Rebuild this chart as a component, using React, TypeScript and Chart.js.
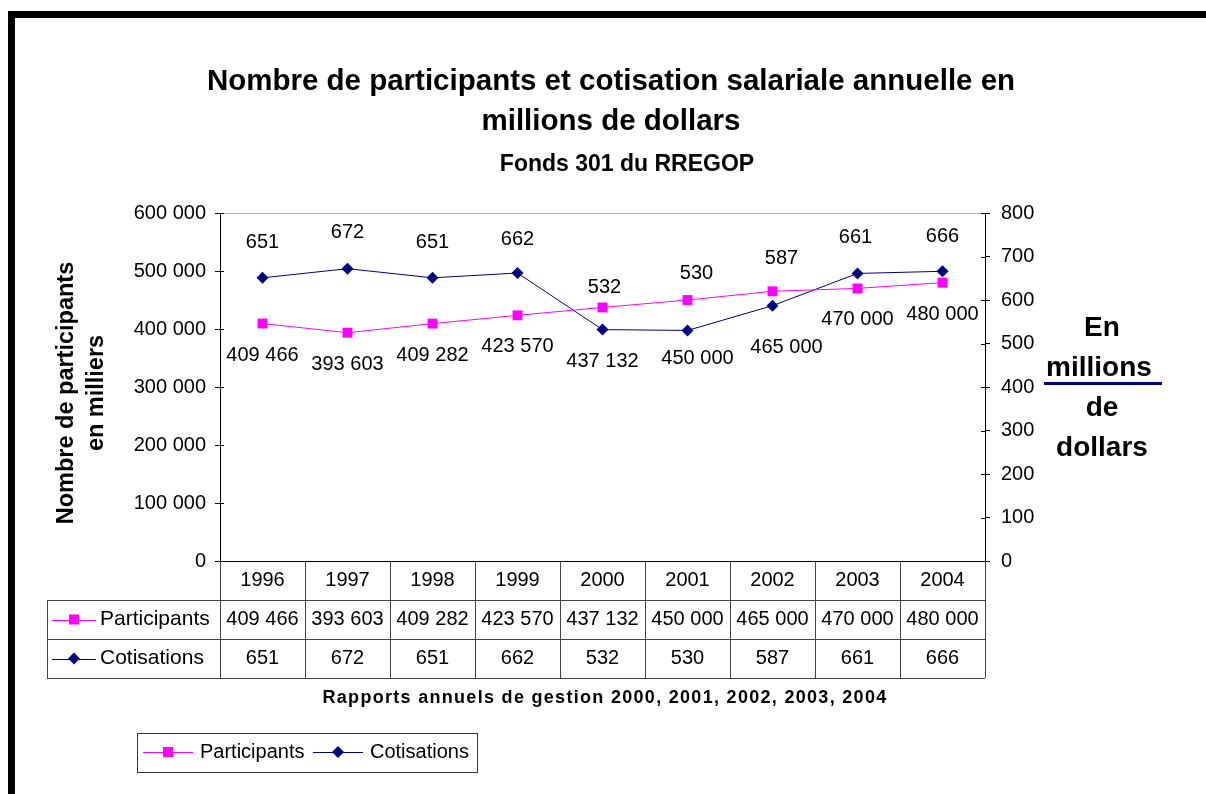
import React, { useEffect, useRef } from 'react';
import { Chart, registerables } from 'chart.js';

Chart.register(...registerables);

const years = ['1996', '1997', '1998', '1999', '2000', '2001', '2002', '2003', '2004'];
const participants = [409466, 393603, 409282, 423570, 437132, 450000, 465000, 470000, 480000];
const cotisations = [651, 672, 651, 662, 532, 530, 587, 661, 666];
const participantsMax = 600000;
const participantsStep = 100000;
const cotisationsMax = 800;
const cotisationsStep = 100;

// label placement (pixel offsets relative to each point)
const participantLabelOffsets = [[0, 32], [0, 32], [0, 32], [0, 31], [0, 54], [10, 58], [14, 56], [0, 31], [0, 32]];
const cotisationLabelOffsets = [[0, -35], [0, -36], [0, -35], [0, -34], [2, -42], [9, -57], [9, -47], [-2, -36], [0, -35]];

const FONT = '"Liberation Sans", Arial, sans-serif';
const MAGENTA = '#FF00FF';
const NAVY = '#000080';

const fmt = (n: number) => String(n).replace(/\B(?=(\d{3})+(?!\d))/g, ' ');

function drawSquare(ctx: CanvasRenderingContext2D, x: number, y: number, s: number, c: string) {
  ctx.fillStyle = c;
  ctx.fillRect(x - s / 2, y - s / 2, s, s);
}
function drawDiamond(ctx: CanvasRenderingContext2D, x: number, y: number, r: number, c: string) {
  ctx.fillStyle = c;
  ctx.beginPath();
  ctx.moveTo(x - r, y);
  ctx.lineTo(x, y - r);
  ctx.lineTo(x + r, y);
  ctx.lineTo(x, y + r);
  ctx.closePath();
  ctx.fill();
}

const decorPlugin = {
  id: 'decor',
  afterDatasetsDraw(chart: any) {
    const ctx: CanvasRenderingContext2D = chart.ctx;
    ctx.save();
    ctx.font = `20px ${FONT}`;
    ctx.fillStyle = '#000';
    ctx.textAlign = 'center';
    ctx.textBaseline = 'middle';
    const m0 = chart.getDatasetMeta(0).data;
    m0.forEach((pt: any, i: number) => {
      const [dx, dy] = participantLabelOffsets[i];
      ctx.fillText(fmt(participants[i]), pt.x + dx, pt.y + dy);
    });
    const m1 = chart.getDatasetMeta(1).data;
    m1.forEach((pt: any, i: number) => {
      const [dx, dy] = cotisationLabelOffsets[i];
      ctx.fillText(fmt(cotisations[i]), pt.x + dx, pt.y + dy);
    });
    ctx.restore();
  },
  afterDraw(chart: any) {
    const ctx: CanvasRenderingContext2D = chart.ctx;
    const { left, right, top, bottom } = chart.chartArea;
    ctx.save();

    // page frame
    ctx.fillStyle = '#000';
    ctx.fillRect(8, 11, 1206 - 8, 7);
    ctx.fillRect(8, 11, 7, 794 - 11);

    // inner half of crossing tick marks
    ctx.strokeStyle = '#000';
    ctx.lineWidth = 1;
    const yS = chart.scales.y;
    const y1S = chart.scales.y1;
    yS.ticks.forEach((t: any) => {
      const py = Math.round(yS.getPixelForValue(t.value)) + 0.5;
      ctx.beginPath(); ctx.moveTo(left, py); ctx.lineTo(left + 4, py); ctx.stroke();
    });
    y1S.ticks.forEach((t: any) => {
      const py = Math.round(y1S.getPixelForValue(t.value)) + 0.5;
      ctx.beginPath(); ctx.moveTo(right - 4, py); ctx.lineTo(right, py); ctx.stroke();
    });

    // titles
    ctx.fillStyle = '#000';
    ctx.textAlign = 'center';
    ctx.textBaseline = 'middle';
    ctx.font = `bold 29.5px ${FONT}`;
    ctx.fillText('Nombre de participants et cotisation salariale annuelle en', 611, 82);
    ctx.fillText('millions de dollars', 611, 122);
    ctx.font = `bold 23px ${FONT}`;
    ctx.fillText('Fonds 301 du RREGOP', 627, 165);

    // left axis title
    ctx.save();
    ctx.translate(67, 393);
    ctx.rotate(-Math.PI / 2);
    ctx.font = `bold 23.5px ${FONT}`;
    ctx.fillText('Nombre de participants', 0, 0);
    ctx.fillText('en milliers', 0, 30);
    ctx.restore();

    // right axis title
    ctx.font = `bold 28px ${FONT}`;
    ctx.fillText('En', 1102, 328);
    ctx.fillText('millions', 1099, 368);
    ctx.fillText('de', 1102, 408);
    ctx.fillText('dollars', 1102, 448);
    ctx.fillStyle = NAVY;
    ctx.fillRect(1044, 382, 118, 3);
    ctx.fillStyle = '#000';

    // data table
    const n = years.length;
    const colW = (right - left) / n;
    const tableLeft = 47;
    const rowH = 39;
    const r1 = bottom + rowH;
    const r2 = r1 + rowH;
    const r3 = r2 + rowH;
    ctx.strokeStyle = '#444';
    ctx.lineWidth = 1;
    const hline = (x0: number, x1: number, y: number) => {
      ctx.beginPath(); ctx.moveTo(x0, Math.round(y) + 0.5); ctx.lineTo(x1, Math.round(y) + 0.5); ctx.stroke();
    };
    const vline = (x: number, y0: number, y1: number) => {
      ctx.beginPath(); ctx.moveTo(Math.round(x) + 0.5, y0); ctx.lineTo(Math.round(x) + 0.5, y1); ctx.stroke();
    };
    hline(tableLeft, right, r1);
    hline(tableLeft, right, r2);
    hline(tableLeft, right, r3);
    vline(tableLeft, r1, r3);
    for (let i = 0; i <= n; i++) vline(left + i * colW, bottom, r3);

    ctx.font = `20px ${FONT}`;
    ctx.textAlign = 'center';
    const xS = chart.scales.x;
    years.forEach((yr, i) => {
      const cx = xS.getPixelForValue(i);
      ctx.fillText(yr, cx, (bottom + r1) / 2);
      ctx.fillText(fmt(participants[i]), cx, (r1 + r2) / 2);
      ctx.fillText(fmt(cotisations[i]), cx, (r2 + r3) / 2);
    });
    // row headers
    const pY = (r1 + r2) / 2;
    const cY = (r2 + r3) / 2;
    ctx.lineWidth = 1;
    ctx.strokeStyle = MAGENTA;
    ctx.beginPath(); ctx.moveTo(52, Math.round(pY) + 0.5); ctx.lineTo(96, Math.round(pY) + 0.5); ctx.stroke();
    drawSquare(ctx, 74, pY, 10, MAGENTA);
    ctx.strokeStyle = NAVY;
    ctx.beginPath(); ctx.moveTo(52, Math.round(cY) + 0.5); ctx.lineTo(96, Math.round(cY) + 0.5); ctx.stroke();
    drawDiamond(ctx, 74, cY, 6, NAVY);
    ctx.fillStyle = '#000';
    ctx.textAlign = 'left';
    ctx.font = `21px ${FONT}`;
    ctx.fillText('Participants', 100, pY);
    ctx.fillText('Cotisations', 100, cY);

    // source
    ctx.textAlign = 'center';
    ctx.font = `bold 18px ${FONT}`;
    (ctx as any).letterSpacing = '1.3px';
    ctx.fillText('Rapports annuels de gestion 2000, 2001, 2002, 2003, 2004', 605, 698);
    (ctx as any).letterSpacing = '0px';

    // legend
    ctx.strokeStyle = '#333';
    ctx.lineWidth = 1;
    ctx.strokeRect(137.5, 733.5, 340, 39);
    const ly = 752;
    ctx.strokeStyle = MAGENTA;
    ctx.beginPath(); ctx.moveTo(143, ly + 0.5); ctx.lineTo(193, ly + 0.5); ctx.stroke();
    drawSquare(ctx, 168, ly, 10, MAGENTA);
    ctx.strokeStyle = NAVY;
    ctx.beginPath(); ctx.moveTo(313, ly + 0.5); ctx.lineTo(363, ly + 0.5); ctx.stroke();
    drawDiamond(ctx, 338, ly, 6, NAVY);
    ctx.fillStyle = '#000';
    ctx.textAlign = 'left';
    ctx.font = `20px ${FONT}`;
    ctx.fillText('Participants', 200, ly);
    ctx.fillText('Cotisations', 370, ly);

    ctx.restore();
  },
};

export default function App() {
  const ref = useRef<HTMLCanvasElement | null>(null);
  useEffect(() => {
    if (!ref.current) return;
    const chart = new Chart(ref.current, {
      type: 'line',
      data: {
        labels: years,
        datasets: [
          {
            label: 'Participants',
            data: participants,
            yAxisID: 'y',
            borderColor: MAGENTA,
            backgroundColor: MAGENTA,
            borderWidth: 1,
            pointStyle: 'rect',
            pointRadius: 7,
            pointBorderWidth: 0,
            tension: 0,
          },
          {
            label: 'Cotisations',
            data: cotisations,
            yAxisID: 'y1',
            borderColor: NAVY,
            backgroundColor: NAVY,
            borderWidth: 1,
            pointStyle: 'rectRot',
            pointRadius: 6,
            pointBorderWidth: 0,
            tension: 0,
          },
        ],
      },
      options: {
        responsive: false,
        animation: false,
        layout: { padding: { top: 213, left: 0, right: 0, bottom: 0 } },
        plugins: {
          legend: { display: false },
          title: { display: false },
          tooltip: { enabled: false },
        },
        scales: {
          x: {
            type: 'category',
            offset: true,
            grid: { display: false },
            ticks: { display: false },
            border: { display: true, color: '#000', width: 1 },
            afterFit: (s: any) => { s.height = 794 - 561; },
          },
          y: {
            position: 'left',
            min: 0,
            max: participantsMax,
            ticks: {
              stepSize: participantsStep,
              callback: (v: any) => fmt(Number(v)),
              font: { family: FONT, size: 20 },
              color: '#000',
              padding: 9,
            },
            grid: {
              color: (c: any) => (c.tick && c.tick.value === participantsMax ? '#b4b4b4' : 'rgba(0,0,0,0)'),
              tickColor: '#000',
              tickLength: 5,
            },
            border: { display: true, color: '#000', width: 1 },
            afterFit: (s: any) => { s.width = 220; },
          },
          y1: {
            position: 'right',
            min: 0,
            max: cotisationsMax,
            ticks: {
              stepSize: cotisationsStep,
              font: { family: FONT, size: 20 },
              color: '#000',
              padding: 11,
            },
            grid: { drawOnChartArea: false, tickColor: '#000', tickLength: 5 },
            border: { display: true, color: '#000', width: 1 },
            afterFit: (s: any) => { s.width = 1206 - 985; },
          },
        },
      },
      plugins: [decorPlugin],
    } as any);
    return () => chart.destroy();
  }, []);
  return (
    <div style={{ position: 'absolute', left: 0, top: 0, width: 1206, height: 794, background: '#fff' }}>
      <canvas ref={ref} width={1206} height={794} style={{ display: 'block' }} />
    </div>
  );
}
